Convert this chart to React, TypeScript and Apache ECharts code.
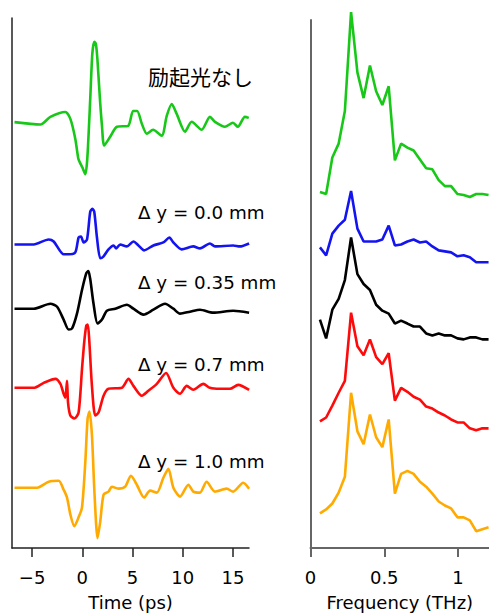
import React, { useEffect, useRef } from "react";
import * as echarts from "echarts";

// ---- Time-domain waveforms (time in ps, amplitude in arbitrary units) ----
const greenT = [-6.75,-4.17,-3.18,-1.69,-1.19,-0.7,-0.4,-0.2,0,0.3,0.5,0.79,1.0,1.2,1.35,1.5,1.75,1.96,2.18,2.78,3.45,4.57,5.06,5.46,5.93,6.43,7.05,7.91,8.41,8.91,9.4,10.23,10.89,11.89,12.71,13.21,14.2,15,15.49,16.19,16.58];
const greenA = [0.7,-1.7,6,11,4,-16,-36,-41,-45,-52,-36,24,70,82,80,65,25,-3,-23,-14,-4,-3,12,12,-1,-11,-7,-13,7,19,9,-9,1,-7,6,1,-4,0,-4,6,5];

const blueT = [-6.75,-4.84,-3.35,-2.85,-1.86,-1.36,-0.7,-0.37,-0.13,0.13,0.47,0.79,1.0,1.19,1.46,1.79,2.12,2.61,3.11,3.38,3.77,4.44,5.09,5.59,6.16,7.08,8.07,8.67,9.07,9.9,11.05,11.72,12.71,13.21,15.02,15.69,16.61];
const blueA = [0,0,5,3,-10,-10,-8,7,8,2,5,33,36,33,7,-14,-12,-5,-1,-4,0,-2,3,-1,-6,-1,2,7,2,-5,-2,-4,1,-2,-1,-2,1];

const blackT = [-6.75,-4.84,-3.18,-2.51,-1.86,-1.36,-1.02,-0.53,-0.03,0.4,0.6,0.79,1.12,1.52,1.96,2.45,3.28,4.44,5.09,6.09,7.08,8.24,9.07,9.73,10.72,11.72,13.04,15.02,16.61];
const blackA = [0,0,5,2,-11,-21,-20,-5,19,36,38,30,5,-15,-11,-2,0,4,0,-6,-1,5,0,-5,-3,-1,-4,-2,-4];

const redT = [-6.75,-4.84,-3.84,-2.68,-2.18,-1.86,-1.69,-1.52,-1.42,-1.19,-0.79,-0.37,-0.03,0.2,0.4,0.55,0.7,0.96,1.29,1.62,2.12,2.61,3.94,4.6,5.09,5.93,6.58,7.42,8.34,9.07,9.73,10.4,11.05,12.05,12.71,13.7,14.7,15.52,16.61];
const redA = [0,0,5,9,4,-6,-10,7,-15,-28,-31,-25,19,47,63,64,47,2,-28,-25,-8,-1,0,9,2,-8,-3,4,15,0,-6,2,-2,4,0,-1,-1,3,-2];

const orangeT = [-6.75,-4.5,-3.35,-2.35,-1.86,-1.52,-1.19,-0.79,-0.37,-0.03,0.3,0.53,0.72,0.96,1.22,1.52,1.79,2.12,2.61,2.95,3.6,4.27,4.84,5.43,6.16,6.75,7.42,8.07,8.57,9.07,9.73,10.56,11.05,11.72,12.38,13.21,14.37,15.02,16.02,16.61];
const orangeA = [0,0,6,7,-2,-10,-27,-39,-30,-20,26,70,77,53,-7,-51,-34,-7,-4,1,-1,1,12,3,-10,-3,-5,10,19,0,-9,3,-4,-5,6,-4,-1,-4,5,-1];

const timeOffsets = [430, 307, 242, 162, 61]; // green, blue, black, red, orange

// ---- Spectra ----
const freq = [0.064,0.106,0.148,0.191,0.233,0.275,0.318,0.36,0.403,0.445,0.487,0.53,0.572,0.614,0.657,0.699,0.742,0.784,0.826,0.869,0.911,0.953,0.996,1.038,1.08,1.123,1.165,1.207];
const greenS = [6,4,41,55,88,188,127,101,134,108,94,113,38,55,51,48,39,30,29,18,12,12,4,3,1,4,4,3];
const blueS = [15,7,29,37,43,72,34,21,21,21,23,37,17,18,21,23,20,21,16,12,11,10,6,7,5,0,0,0];
const blackS = [20,1,30,41,60,103,66,56,50,35,29,26,16,19,16,13,13,6,4,6,4,4,1,0,2,2,0,0];
const redS = [7,11,23,36,48,117,83,74,90,72,65,76,28,41,37,32,29,22,20,16,13,9,6,6,0,-2,0,0];
const orangeS = [14,18,24,35,51,136,97,84,114,91,81,109,34,54,57,54,46,41,34,26,22,19,10,10,7,-4,-2,0];
const specOffsets = [354, 289, 211, 121, 21];

const colors = ["#18c818", "#1414f0", "#000000", "#ff0a0a", "#ffaa00"];
const labels = ["励起光なし", "Δ y = 0.0 mm", "Δ y = 0.35 mm", "Δ y = 0.7 mm", "Δ y = 1.0 mm"];
const timeTicks = [-5, 0, 5, 10, 15];
const timeTickLabels = ["−5", "0", "5", "10", "15"];
const freqTicks = [0, 0.5, 1];
const freqTickLabels = ["0", "0.5", "1"];

const FONT = "'DejaVu Sans', 'Noto Sans CJK JP', sans-serif";
const CJK = "'Noto Sans CJK JP', sans-serif";

export default function App() {
  const ref = useRef<HTMLDivElement>(null);
  useEffect(() => {
    if (!ref.current) return;
    const chart = echarts.init(ref.current, null, { renderer: "svg" });
    const timeSets = [
      [greenT, greenA],
      [blueT, blueA],
      [blackT, blackA],
      [redT, redA],
      [orangeT, orangeA],
    ];
    const specSets = [greenS, blueS, blackS, redS, orangeS];
    const series: any[] = [];
    timeSets.forEach(([t, a], i) => {
      series.push({
        type: "line",
        xAxisIndex: 0,
        yAxisIndex: 0,
        data: t.map((v, k) => [v, a[k] + timeOffsets[i]]),
        showSymbol: false,
        clip: false,
        smooth: 0.25,
        lineStyle: { color: colors[i], width: 2.6 },
        z: 10 - i,
      });
    });
    specSets.forEach((s, i) => {
      series.push({
        type: "line",
        xAxisIndex: 1,
        yAxisIndex: 1,
        data: freq.map((f, k) => [f, s[k] + specOffsets[i]]),
        showSymbol: false,
        clip: false,
        lineStyle: { color: colors[i], width: 2.6 },
        z: 10 - i,
      });
    });
    const labelY = [76, 212, 282, 364, 461];
    const labelX = [148, 138, 138, 138, 138];
    chart.setOption({
      animation: false,
      backgroundColor: "#ffffff",
      grid: [
        { left: 12, right: 240, top: 18, bottom: 62 },
        { left: 310.5, right: 0, top: 20, bottom: 62 },
      ],
      xAxis: [
        {
          type: "value",
          gridIndex: 0,
          min: -7,
          max: 16.6,
          name: "Time (ps)",
          nameLocation: "middle",
          nameGap: 45,
          nameTextStyle: { fontFamily: FONT, fontSize: 18, color: "#000" },
          axisLine: { onZero: false, lineStyle: { color: "#222", width: 1.5 } },
          axisTick: { show: true, length: 9, customValues: timeTicks, lineStyle: { color: "#222", width: 1.5 } },
          axisLabel: {
            customValues: timeTicks,
            margin: 20,
            fontFamily: FONT,
            fontSize: 18,
            color: "#000",
            formatter: (v: number) => timeTickLabels[timeTicks.indexOf(v)] ?? "",
          },
          splitLine: { show: false },
        },
        {
          type: "value",
          gridIndex: 1,
          min: 0,
          max: 1.21,
          name: "Frequency (THz)",
          nameLocation: "middle",
          nameGap: 45,
          nameTextStyle: { fontFamily: FONT, fontSize: 18, color: "#000" },
          axisLine: { onZero: false, lineStyle: { color: "#666", width: 2 } },
          axisTick: { show: true, length: 9, customValues: freqTicks, lineStyle: { color: "#666", width: 2 } },
          axisLabel: {
            customValues: freqTicks,
            margin: 20,
            fontFamily: FONT,
            fontSize: 18,
            color: "#000",
            formatter: (v: number) => freqTickLabels[freqTicks.indexOf(v)] ?? "",
          },
          splitLine: { show: false },
        },
      ],
      yAxis: [
        {
          type: "value",
          gridIndex: 0,
          min: 0,
          max: 536,
          axisLine: { show: true, onZero: false, lineStyle: { color: "#222", width: 1.5 } },
          axisTick: { show: false },
          axisLabel: { show: false },
          splitLine: { show: false },
        },
        {
          type: "value",
          gridIndex: 1,
          min: 0,
          max: 534,
          axisLine: { show: true, onZero: false, lineStyle: { color: "#666", width: 2 } },
          axisTick: { show: false },
          axisLabel: { show: false },
          splitLine: { show: false },
        },
      ],
      graphic: labels.map((txt, i) => ({
        type: "text",
        x: labelX[i],
        y: labelY[i],
        style: {
          text: txt,
          fontFamily: i === 0 ? CJK : FONT,
          fontSize: i === 0 ? 21 : 18.3,
          fill: "#000",
          verticalAlign: "middle",
        },
      })),
      series,
    });
    return () => chart.dispose();
  }, []);
  return (
    <div
      ref={ref}
      style={{ position: "absolute", left: 0, top: 0, width: 489, height: 616 }}
    />
  );
}
